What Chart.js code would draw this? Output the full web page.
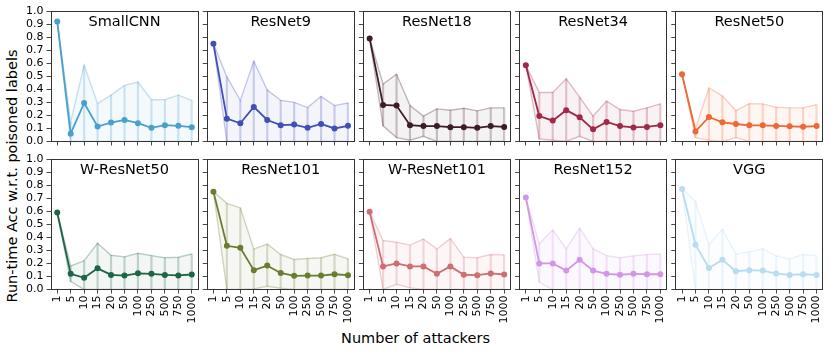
<!DOCTYPE html>
<html><head><meta charset="utf-8">
<script src="https://cdn.jsdelivr.net/npm/chart.js@4.4.0/dist/chart.umd.min.js"></script>
<style>
html,body{margin:0;padding:0;background:#fff;}
#wrap{position:relative;width:831px;height:351px;overflow:hidden;font-family:"DejaVu Sans",sans-serif;background:#fff;}
canvas{position:absolute;left:0;top:0;}
.lab{position:absolute;font-size:14.5px;color:#000;white-space:nowrap;line-height:1;}
#ylab{left:12px;top:175.5px;transform:translate(-50%,-50%) rotate(-90deg);}
#xlab{left:415.5px;top:338px;transform:translate(-50%,-50%);}
</style></head><body>
<div id="wrap">
<div class="lab" id="ylab">Run-time Acc w.r.t. poisoned labels</div>
<div class="lab" id="xlab">Number of attackers</div>
</div>
<script>
const categories = ['1','5','10','15','20','50','100','250','500','750','1000'];
const yTicks = [0.0,0.1,0.2,0.3,0.4,0.5,0.6,0.7,0.8,0.9,1.0];
const models = ['SmallCNN','ResNet9','ResNet18','ResNet34','ResNet50','W-ResNet50','ResNet101','W-ResNet101','ResNet152','VGG'];
const colors = ['#4aa0cd','#4050b4','#3c1c28','#a02848','#eb6937','#1e6446','#697d32','#cd6e73','#d296e6','#b9dcf0'];

const meanSmallCNN  = [0.92, 0.06, 0.295, 0.115, 0.145, 0.165, 0.14, 0.105, 0.125, 0.12, 0.11];
const upperSmallCNN = [0.92, 0.15, 0.585, 0.29, 0.355, 0.43, 0.455, 0.32, 0.32, 0.355, 0.315];
const lowerSmallCNN = [0.92, 0, 0, 0, 0, 0, 0, 0, 0, 0, 0];

const meanResNet9  = [0.75, 0.175, 0.14, 0.265, 0.165, 0.125, 0.13, 0.105, 0.135, 0.10, 0.12];
const upperResNet9 = [0.75, 0.495, 0.315, 0.615, 0.395, 0.315, 0.30, 0.26, 0.345, 0.275, 0.295];
const lowerResNet9 = [0.75, 0, 0, 0, 0, 0, 0, 0, 0, 0, 0];

const meanResNet18  = [0.79, 0.28, 0.275, 0.125, 0.118, 0.118, 0.11, 0.11, 0.105, 0.118, 0.112];
const upperResNet18 = [0.79, 0.44, 0.515, 0.275, 0.195, 0.25, 0.24, 0.255, 0.235, 0.258, 0.258];
const lowerResNet18 = [0.79, 0.12, 0.03, 0.01, 0.04, 0, 0, 0, 0, 0, 0];

const meanResNet34  = [0.585, 0.195, 0.16, 0.24, 0.185, 0.093, 0.15, 0.118, 0.108, 0.112, 0.125];
const upperResNet34 = [0.585, 0.375, 0.375, 0.48, 0.34, 0.195, 0.31, 0.245, 0.232, 0.258, 0.288];
const lowerResNet34 = [0.585, 0.02, 0.01, 0, 0.04, 0, 0, 0, 0, 0, 0];

const meanResNet50  = [0.515, 0.077, 0.188, 0.147, 0.134, 0.124, 0.124, 0.119, 0.116, 0.113, 0.118];
const upperResNet50 = [0.515, 0.10, 0.41, 0.35, 0.237, 0.29, 0.288, 0.262, 0.258, 0.258, 0.283];
const lowerResNet50 = [0.515, 0.03, 0.01, 0, 0.03, 0, 0, 0, 0, 0, 0];

const meanWResNet50  = [0.59, 0.12, 0.09, 0.162, 0.112, 0.107, 0.124, 0.12, 0.112, 0.108, 0.115];
const upperWResNet50 = [0.59, 0.18, 0.22, 0.355, 0.262, 0.25, 0.278, 0.26, 0.243, 0.247, 0.272];
const lowerWResNet50 = [0.59, 0.062, 0, 0, 0, 0, 0, 0, 0, 0, 0];

const meanResNet101  = [0.75, 0.335, 0.32, 0.148, 0.183, 0.127, 0.105, 0.107, 0.107, 0.117, 0.11];
const upperResNet101 = [0.75, 0.66, 0.625, 0.31, 0.348, 0.268, 0.23, 0.238, 0.243, 0.27, 0.235];
const lowerResNet101 = [0.75, 0, 0, 0.005, 0.025, 0.01, 0, 0, 0, 0, 0];

const meanWResNet101  = [0.595, 0.177, 0.2, 0.177, 0.177, 0.12, 0.177, 0.113, 0.11, 0.123, 0.115];
const upperWResNet101 = [0.595, 0.375, 0.362, 0.34, 0.387, 0.31, 0.39, 0.248, 0.243, 0.268, 0.265];
const lowerWResNet101 = [0.595, 0, 0.04, 0.012, 0, 0, 0, 0, 0, 0, 0];

const meanResNet152  = [0.705, 0.2, 0.2, 0.145, 0.228, 0.145, 0.12, 0.113, 0.12, 0.117, 0.117];
const upperResNet152 = [0.705, 0.35, 0.455, 0.313, 0.47, 0.313, 0.26, 0.243, 0.258, 0.268, 0.272];
const lowerResNet152 = [0.705, 0.055, 0, 0, 0, 0, 0, 0, 0, 0, 0];

const meanVGG  = [0.77, 0.343, 0.165, 0.228, 0.14, 0.148, 0.145, 0.122, 0.112, 0.117, 0.112];
const upperVGG = [0.77, 0.675, 0.345, 0.462, 0.273, 0.288, 0.313, 0.258, 0.235, 0.268, 0.258];
const lowerVGG = [0.77, 0, 0, 0, 0, 0, 0, 0, 0, 0, 0];

const means  = [meanSmallCNN, meanResNet9, meanResNet18, meanResNet34, meanResNet50, meanWResNet50, meanResNet101, meanWResNet101, meanResNet152, meanVGG];
const uppers = [upperSmallCNN, upperResNet9, upperResNet18, upperResNet34, upperResNet50, upperWResNet50, upperResNet101, upperWResNet101, upperResNet152, upperVGG];
const lowers = [lowerSmallCNN, lowerResNet9, lowerResNet18, lowerResNet34, lowerResNet50, lowerWResNet50, lowerResNet101, lowerWResNet101, lowerResNet152, lowerVGG];

function rgba(hex, a){
  const n = parseInt(hex.slice(1),16);
  return `rgba(${(n>>16)&255},${(n>>8)&255},${n&255},${a})`;
}

const FONT = '"DejaVu Sans", sans-serif';
const W = 831, H = 351;
const PLOT_W = 148, PLOT_H = 130.5;
const LEFT0 = 50.5, COL_STEP = 156.2;
const TOPS = [11, 159];
const Y_AXIS_W = 40, X_AXIS_H = 40;

const framePlugin = {
  id: 'panelFrame',
  afterDatasetsDraw(chart, args, opts){
    const a = chart.chartArea, ctx = chart.ctx;
    ctx.save();
    ctx.strokeStyle = '#333';
    ctx.lineWidth = 1;
    ctx.strokeRect(Math.round(a.left)+0.5, Math.round(a.top)+0.5, Math.round(a.right-a.left)-1, Math.round(a.bottom-a.top)-1);
    ctx.fillStyle = '#000';
    ctx.font = '14.5px ' + FONT;
    ctx.textAlign = 'center';
    ctx.textBaseline = 'alphabetic';
    ctx.fillText(opts.text, (a.left+a.right)/2, a.top + 15);
    ctx.restore();
  }
};

const wrap = document.getElementById('wrap');
models.forEach((name, i) => {
  const col = i % 5, row = Math.floor(i / 5);
  const left = LEFT0 + col * COL_STEP;
  const top = TOPS[row];
  const cv = document.createElement('canvas');
  cv.width = W; cv.height = H;
  cv.style.width = W + 'px'; cv.style.height = H + 'px';
  wrap.appendChild(cv);
  const c = colors[i];
  new Chart(cv.getContext('2d'), {
    type: 'line',
    data: {
      labels: categories,
      datasets: [
        { type:'line', data: means[i], borderColor: c, backgroundColor: c, borderWidth: 1.8,
          pointRadius: 3, pointHoverRadius: 3, pointBackgroundColor: c, pointBorderWidth: 0, fill: false, tension: 0 },
        { type:'line', data: uppers[i], borderColor: rgba(c,0.3), borderWidth: 1.4, pointRadius: 0,
          fill: {target: 2}, backgroundColor: rgba(c,0.06), tension: 0 },
        { type:'line', data: lowers[i], borderColor: rgba(c,0.3), borderWidth: 1.4, pointRadius: 0, fill: false, tension: 0 },
        { type:'bar', data: lowers[i].map((lo, k) => [lo, uppers[i][k]]), backgroundColor: rgba(c,0.25),
          borderWidth: 0, barThickness: 1.5 }
      ]
    },
    options: {
      responsive: false, animation: false, devicePixelRatio: 1,
      events: [],
      layout: { padding: { left: left - Y_AXIS_W, top: top, right: W - left - PLOT_W, bottom: H - top - PLOT_H - X_AXIS_H } },
      plugins: { legend: { display: false }, tooltip: { enabled: false }, title: { display: false },
                 panelFrame: { text: name } },
      scales: {
        x: {
          type: 'category', offset: true,
          grid: { offset: false, drawOnChartArea: false, drawTicks: true, tickLength: 4, color: '#333', lineWidth: 0.9 },
          border: { display: false },
          ticks: { display: row === 1, autoSkip: false, minRotation: 90, maxRotation: 90, padding: 2,
                   color: '#000', font: { family: FONT, size: 11 } },
          afterFit: s => { s.height = X_AXIS_H; s.paddingLeft = 0; s.paddingRight = 0; s.paddingTop = 0; s.paddingBottom = 0; }
        },
        y: {
          min: 0, max: 1,
          afterBuildTicks: s => { s.ticks = yTicks.map(v => ({ value: v })); },
          grid: { drawOnChartArea: false, drawTicks: true, tickLength: 4, color: '#333', lineWidth: 0.9 },
          border: { display: false },
          ticks: { display: col === 0, autoSkip: false, padding: 3, color: '#000', font: { family: FONT, size: 11 },
                   callback: v => Number(v).toFixed(1) },
          afterFit: s => { s.width = Y_AXIS_W; s.paddingLeft = 0; s.paddingRight = 0; s.paddingTop = 0; s.paddingBottom = 0; }
        }
      }
    },
    plugins: [framePlugin]
  });
});
</script>
</body></html>
